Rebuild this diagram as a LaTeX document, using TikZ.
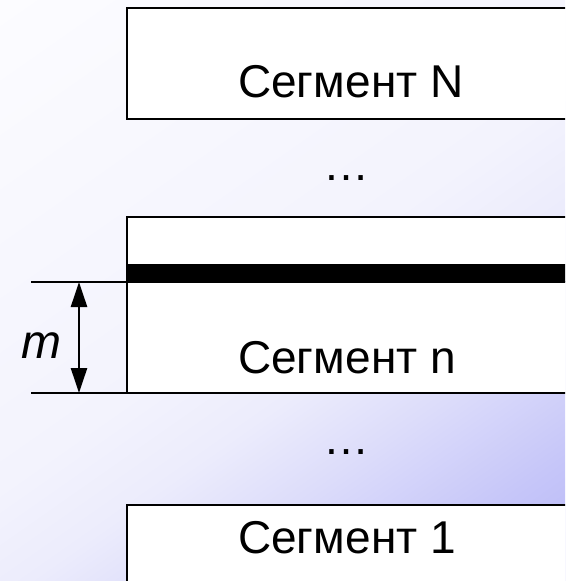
\documentclass[tikz,border=0pt]{standalone}
\usepackage{fontspec}
\setmainfont{Liberation Sans}
\usetikzlibrary{arrows.meta}
\definecolor{bg0}{RGB}{252,252,255}
\definecolor{bg1}{RGB}{243,243,253}
\definecolor{bgm}{RGB}{236,236,252}
\definecolor{bg2}{RGB}{220,220,250}
\definecolor{bg3}{RGB}{198,198,249}
\definecolor{bg4}{RGB}{182,182,246}
\pgfdeclarehorizontalshading{bgshade}{100bp}{color(0bp)=(bg0); color(15bp)=(bg0); color(50bp)=(bg1); color(58bp)=(bgm); color(66bp)=(bg2); color(76bp)=(bg3); color(85bp)=(bg4); color(100bp)=(bg4)}
\begin{document}
\begin{tikzpicture}[x=1pt,y=-1pt,
  seg/.style={draw=black,line width=2.6pt,fill=white},
  lbl/.style={font=\fontsize{46}{50}\selectfont, inner sep=0pt, anchor=base west},
  dotsl/.style={font=\fontsize{46}{50}\selectfont, inner sep=0pt, anchor=base},
  rule/.style={draw=black,line width=2.6pt},
  dim/.style={draw=black,line width=2.5pt,{Triangle[length=25pt,width=16pt]}-{Triangle[length=25pt,width=16pt]}}]
\useasboundingbox (0,0) rectangle (565,581);
\clip (0,0) rectangle (565,581);
\node[inner sep=0pt, outer sep=0pt, transform shape, rotate=-55, scale=11.43] (bg) at (282.5,290.5) {\pgfuseshading{bgshade}};
% segment N
\draw[seg] (127,8) rectangle (620,119);
\node[lbl] (tN) at (238,97) {Сегмент N};
\node[dotsl] (d1) at (346,180) {…};
% segment n
\draw[seg] (127,217) rectangle (620,393);
\fill[black] (127,264) rectangle (620,282);
\coordinate (lt) at (31,282);
\coordinate (rt) at (620,282);
\coordinate (lb) at (31,393);
\coordinate (rb) at (127,393);
\draw[rule] (lt) -- (rt);
\draw[rule] (lb) -- (rb);
\node[lbl] (tn) at (238,373) {Сегмент n};
\coordinate (mt) at (79,282);
\coordinate (mb) at (79,393);
\draw[dim] (mt) -- (mb);
\node[font=\fontsize{48}{50}\selectfont\itshape, inner sep=0pt, anchor=base] (m) at (41,358) {m};
\node[dotsl] (d2) at (346,454) {…};
% segment 1
\draw[seg] (127,505) rectangle (620,640);
\node[lbl] (t1) at (238,553) {Сегмент 1};
\end{tikzpicture}
\end{document}
